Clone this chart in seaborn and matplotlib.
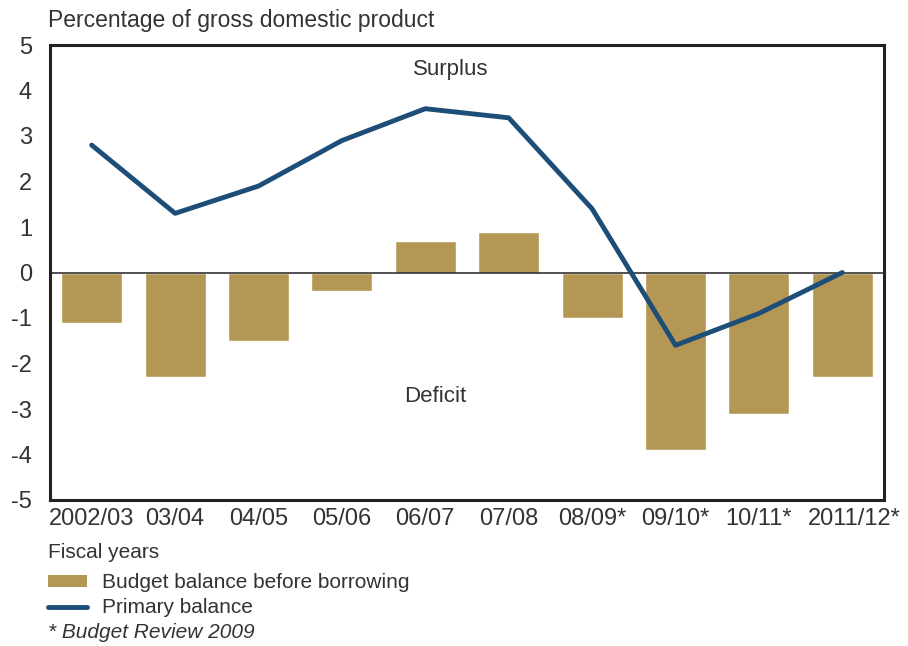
import numpy as np
import pandas as pd
import seaborn as sns
import matplotlib.pyplot as plt
from matplotlib.patches import Patch
from matplotlib.lines import Line2D
from matplotlib.transforms import ScaledTranslation

# fiscal years and the two series (% of GDP)
years = ["2002/03", "03/04", "04/05", "05/06", "06/07", "07/08",
         "08/09*", "09/10*", "10/11*", "2011/12*"]
budget_balance = [-1.1, -2.3, -1.5, -0.4, 0.7, 0.9, -1.0, -3.9, -3.1, -2.3]
primary_balance = [2.8, 1.3, 1.9, 2.9, 3.6, 3.4, 1.4, -1.6, -0.9, 0.0]
y_ticks = [5, 4, 3, 2, 1, 0, -1, -2, -3, -4, -5]

BAR_COLOR = "#B59755"
LINE_COLOR = "#1D4E78"
TEXT_COLOR = "#333333"
FS = 16
LEG_FS = 15
TICK_FS = 17

sns.set_style("white")
plt.rcParams['font.family'] = ['Liberation Sans', 'DejaVu Sans']
plt.rcParams['text.color'] = TEXT_COLOR

df = pd.DataFrame({"year": years, "budget": budget_balance, "primary": primary_balance})

fig = plt.figure(figsize=(9.08, 6.46), dpi=100)
ax = fig.add_axes([50 / 908, 1 - 500 / 646, 834 / 908, 455 / 646])

sns.barplot(data=df, x="year", y="budget", color=BAR_COLOR, saturation=1,
            width=0.73, ax=ax, zorder=2)
sns.lineplot(data=df, x="year", y="primary", color=LINE_COLOR, linewidth=3.5,
             sort=False, ax=ax, zorder=4)

ax.axhline(0, color="#222222", linewidth=1.1, zorder=3)

ax.set_xlim(-0.5, len(years) - 0.5)
ax.set_ylim(-5, 5)
ax.set_yticks(y_ticks)
ax.set_yticklabels([str(v) for v in y_ticks])
ax.set_xlabel("")
ax.set_ylabel("")

for s in ax.spines.values():
    s.set_visible(True)
    s.set_linewidth(2.2)
    s.set_color("#222222")

ax.tick_params(axis="y", direction="in", length=14.5, width=1.6,
               color="#222222", labelsize=TICK_FS, pad=13, labelcolor=TEXT_COLOR)
ax.tick_params(axis="x", which="major", length=0, labelsize=TICK_FS, pad=6,
               labelcolor=TEXT_COLOR)
ax.set_xticks(np.arange(0.5, len(years) - 0.5), minor=True)
ax.tick_params(axis="x", which="minor", direction="in", length=13, width=1.6,
               color="#222222")

# the last label sits a little to the right in the original
last = ax.get_xticklabels()[-1]
last.set_transform(last.get_transform() + ScaledTranslation(0.12, 0, fig.dpi_scale_trans))

ax.text(4.3, 4.47, "Surplus", ha="center", va="center", fontsize=FS)
ax.text(4.12, -2.73, "Deficit", ha="center", va="center", fontsize=FS)

fig.text(48 / 908, 1 - 20 / 646, "Percentage of gross domestic product",
         ha="left", va="center", fontsize=16.5)
fig.text(48 / 908, 1 - 553 / 646, "Fiscal years", ha="left", va="center",
         fontsize=LEG_FS)

handles = [Patch(facecolor=BAR_COLOR, edgecolor="none"),
           Line2D([0], [0], color=LINE_COLOR, linewidth=3.5)]
labels = ["Budget balance before borrowing", "Primary balance"]
fig.legend(handles, labels, loc="upper left",
           bbox_to_anchor=(48 / 908, 1 - 573 / 646), frameon=False,
           fontsize=LEG_FS, handlelength=1.85, handleheight=0.5,
           handletextpad=0.75, labelspacing=0.3, borderaxespad=0,
           borderpad=0)

fig.text(48 / 908, 1 - 633 / 646, "* Budget Review 2009", ha="left",
         va="center", fontsize=LEG_FS, style="italic")

fig.savefig("out.png", dpi=100)
